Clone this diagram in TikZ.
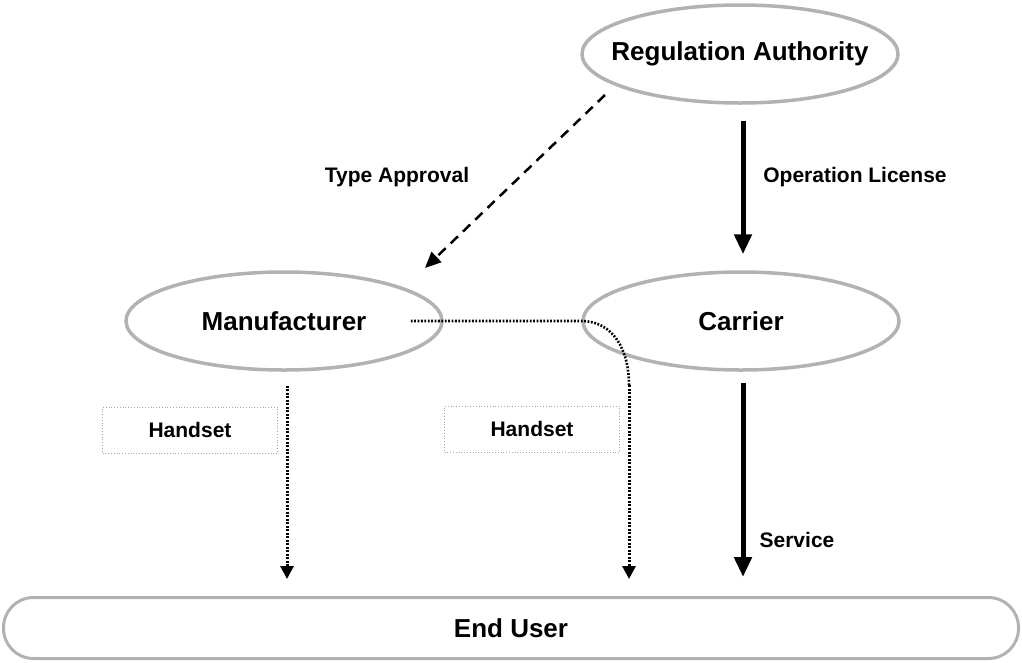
\documentclass[tikz,border=0pt]{standalone}
\usepackage{fontspec}
\setmainfont{Liberation Sans}
\usetikzlibrary{shapes.geometric,arrows.meta}

\tikzset{
  ell/.style={ellipse,draw=gray!60,line width=3.5pt,minimum width=316pt,minimum height=98pt,inner sep=0pt,font=\fontsize{26}{30}\selectfont\bfseries},
  lbl/.style={font=\fontsize{21}{25}\selectfont\bfseries,inner sep=0pt},
  hbox/.style={draw=gray!70,dotted,line width=0.8pt,minimum width=175pt,minimum height=46pt,font=\fontsize{21}{25}\selectfont\bfseries},
  thick arr/.style={line width=5pt,-{Triangle[length=20pt,width=17pt]}},
  dot arr/.style={line width=3pt,dash pattern=on 2pt off 1.5pt,-{Triangle[length=13pt,width=13pt]}}
}

\begin{document}
\begin{tikzpicture}[x=1pt,y=-1pt]
\useasboundingbox (0,0) rectangle (1022,662);

\node[ell,inner xsep=-19pt] (reg) at (740,54) {Regulation Authority};
\node[ell] (man) at (284,321) {Manufacturer};
\node[ell] (car) at (741,321) {Carrier};
\node[draw=gray!60,line width=3pt,rounded corners=30pt,minimum width=1015pt,minimum height=61pt,font=\fontsize{26}{30}\selectfont\bfseries] (eu) at (511,628) {End User};

\node[hbox] (hs1) at (190,430) {Handset};
\node[hbox] (hs2) at (532,429) {Handset};

\node[lbl] (ta) at (397,177) {Type Approval};
\node[lbl] (ol) at (855,177) {Operation License};
\node[lbl] (sv) at (797,540) {Service};

% approval and licence
\coordinate (tastart) at (605,95);
\coordinate (taend) at (425,268);
\draw[line width=2.5pt,dash pattern=on 10pt off 7pt,-{Triangle[length=16pt,width=14pt]}] (tastart) -- (taend);
\draw[thick arr,shorten <=16pt,shorten >=16pt] ([xshift=3pt]reg.south) -- ([xshift=2pt]car.north);

% handsets and service
\draw[dot arr,shorten <=14pt,shorten >=17pt] ([xshift=3pt]man.south) -- ([xshift=3pt]man.south |- eu.north);
\coordinate (bend) at (629,385);
\draw[line width=2.6pt,dash pattern=on 1.8pt off 1.6pt] ([xshift=-33pt]man.east) -- (car.west) .. controls +(32,0) and +(0,-35) .. (bend);
\draw[dot arr,shorten >=17pt] (bend) -- (bend |- eu.north);
\draw[thick arr,shorten <=11pt,shorten >=19pt] ([xshift=2pt]car.south) -- ([xshift=2pt]car.south |- eu.north);
\end{tikzpicture}
\end{document}
